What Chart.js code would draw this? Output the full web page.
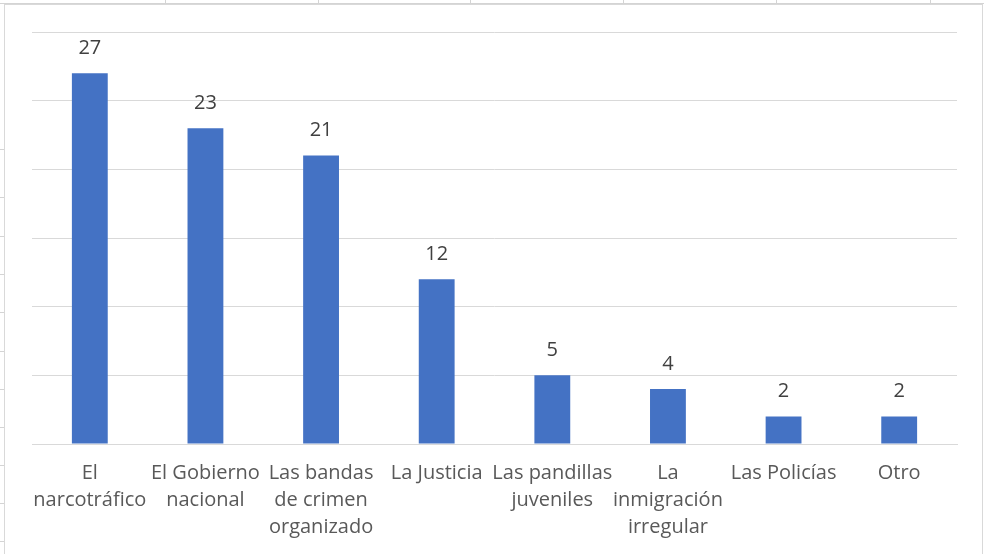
<!DOCTYPE html>
<html><head><meta charset="utf-8">
<script src="https://cdn.jsdelivr.net/npm/chart.js@4/dist/chart.umd.min.js"></script>
<style>html,body{margin:0;padding:0;background:#fff;}#wrap{width:984px;height:554px;position:relative;}</style>
</head><body><div id="wrap"><canvas id="c" width="984" height="554"></canvas></div>
<script>
const categories = [["El","narcotráfico"],["El Gobierno","nacional"],["Las bandas","de crimen","organizado"],["La Justicia"],["Las pandillas","juveniles"],["La","inmigración","irregular"],["Las Policías"],["Otro"]];
const values = [27,23,21,12,5,4,2,2];
const yTicks = [0,5,10,15,20,25,30];

const framePlugin = {
  id:'frame',
  beforeDraw(chart){
    const ctx = chart.ctx;
    ctx.save();
    ctx.fillStyle='#fff'; ctx.fillRect(0,0,chart.width,chart.height);
    ctx.strokeStyle='#d4d4d4'; ctx.lineWidth=1;
    ctx.beginPath();
    ctx.moveTo(0,3.5); ctx.lineTo(984,3.5);
    [165,318,470,623,776,930].forEach(x=>{ctx.moveTo(x+0.5,0);ctx.lineTo(x+0.5,4);});
    [149,197,236,274,312,351,389,427,465,503,541].forEach(y=>{ctx.moveTo(0,y+0.5);ctx.lineTo(4,y+0.5);});
    ctx.stroke();
    ctx.strokeStyle='#d9d9d9';
    ctx.strokeRect(4.5,4.5,978,560);
    ctx.restore();
  }
};
const labelPlugin = {
  id:'vals',
  afterDatasetsDraw(chart){
    const ctx=chart.ctx; const meta=chart.getDatasetMeta(0);
    ctx.save();
    ctx.font='20px "Open Sans"'; ctx.fillStyle='#404040'; ctx.textAlign='center'; ctx.textBaseline='middle';
    meta.data.forEach((b,i)=>{ ctx.fillText(String(values[i]), b.x, b.y-25); });
    ctx.restore();
  }
};
new Chart(document.getElementById('c'),{
  type:'bar',
  data:{labels:categories,datasets:[{data:values,backgroundColor:'#4472c4',borderWidth:0,categoryPercentage:1,barPercentage:0.31}]},
  options:{
    responsive:false,animation:false,
    layout:{padding:{top:32,left:32,right:27,bottom:0}},
    plugins:{legend:{display:false},tooltip:{enabled:false}},
    scales:{
      x:{grid:{display:false},border:{color:'#d9d9d9'},
         ticks:{color:'#595959',font:{family:'Open Sans',size:20,lineHeight:1.35},padding:8,maxRotation:0,autoSkip:false},
         afterFit(s){s.height=110;}},
      y:{min:0,max:30,afterBuildTicks(s){s.ticks=yTicks.map(v=>({value:v}));},
         ticks:{display:false},grid:{color:'#d9d9d9',drawTicks:false},border:{display:false},
         afterFit(s){s.width=0;}}
    }
  },
  plugins:[framePlugin,labelPlugin]
});
</script></body></html>
